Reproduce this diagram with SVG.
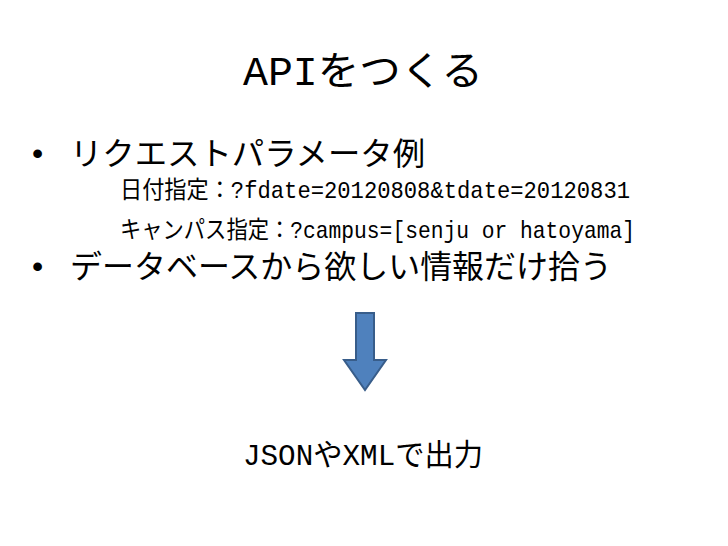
<svg xmlns="http://www.w3.org/2000/svg" width="728" height="546" viewBox="0 0 728 546">
<style>
text{font-family:"Liberation Mono","Noto Sans CJK JP",monospace;fill:#000}
.b{font-size:32px}
.s{font-size:24px}
</style>
<rect width="728" height="546" fill="#fff"/>
<text x="243" y="85" font-size="40" textLength="240" lengthAdjust="spacingAndGlyphs">APIをつくる</text>
<text x="28" y="164" class="b">•</text>
<text x="70" y="165" class="b" textLength="355" lengthAdjust="spacingAndGlyphs">リクエストパラメータ例</text>
<text x="120" y="198" class="s" textLength="510" lengthAdjust="spacingAndGlyphs">日付指定：?fdate=20120808&amp;tdate=20120831</text>
<text x="120" y="238" class="s" textLength="515" lengthAdjust="spacingAndGlyphs">キャンパス指定：?campus=[senju or hatoyama]</text>
<text x="28" y="277" class="b">•</text>
<text x="70" y="278" class="b" textLength="542" lengthAdjust="spacingAndGlyphs">データベースから欲しい情報だけ拾う</text>
<path d="M356 313H374V360H386L365 390L344 360H356Z" fill="#4f81bd" stroke="#385d8a" stroke-width="2"/>
<text x="243" y="465" font-size="30" textLength="240" lengthAdjust="spacingAndGlyphs">JSONやXMLで出力</text>
</svg>
